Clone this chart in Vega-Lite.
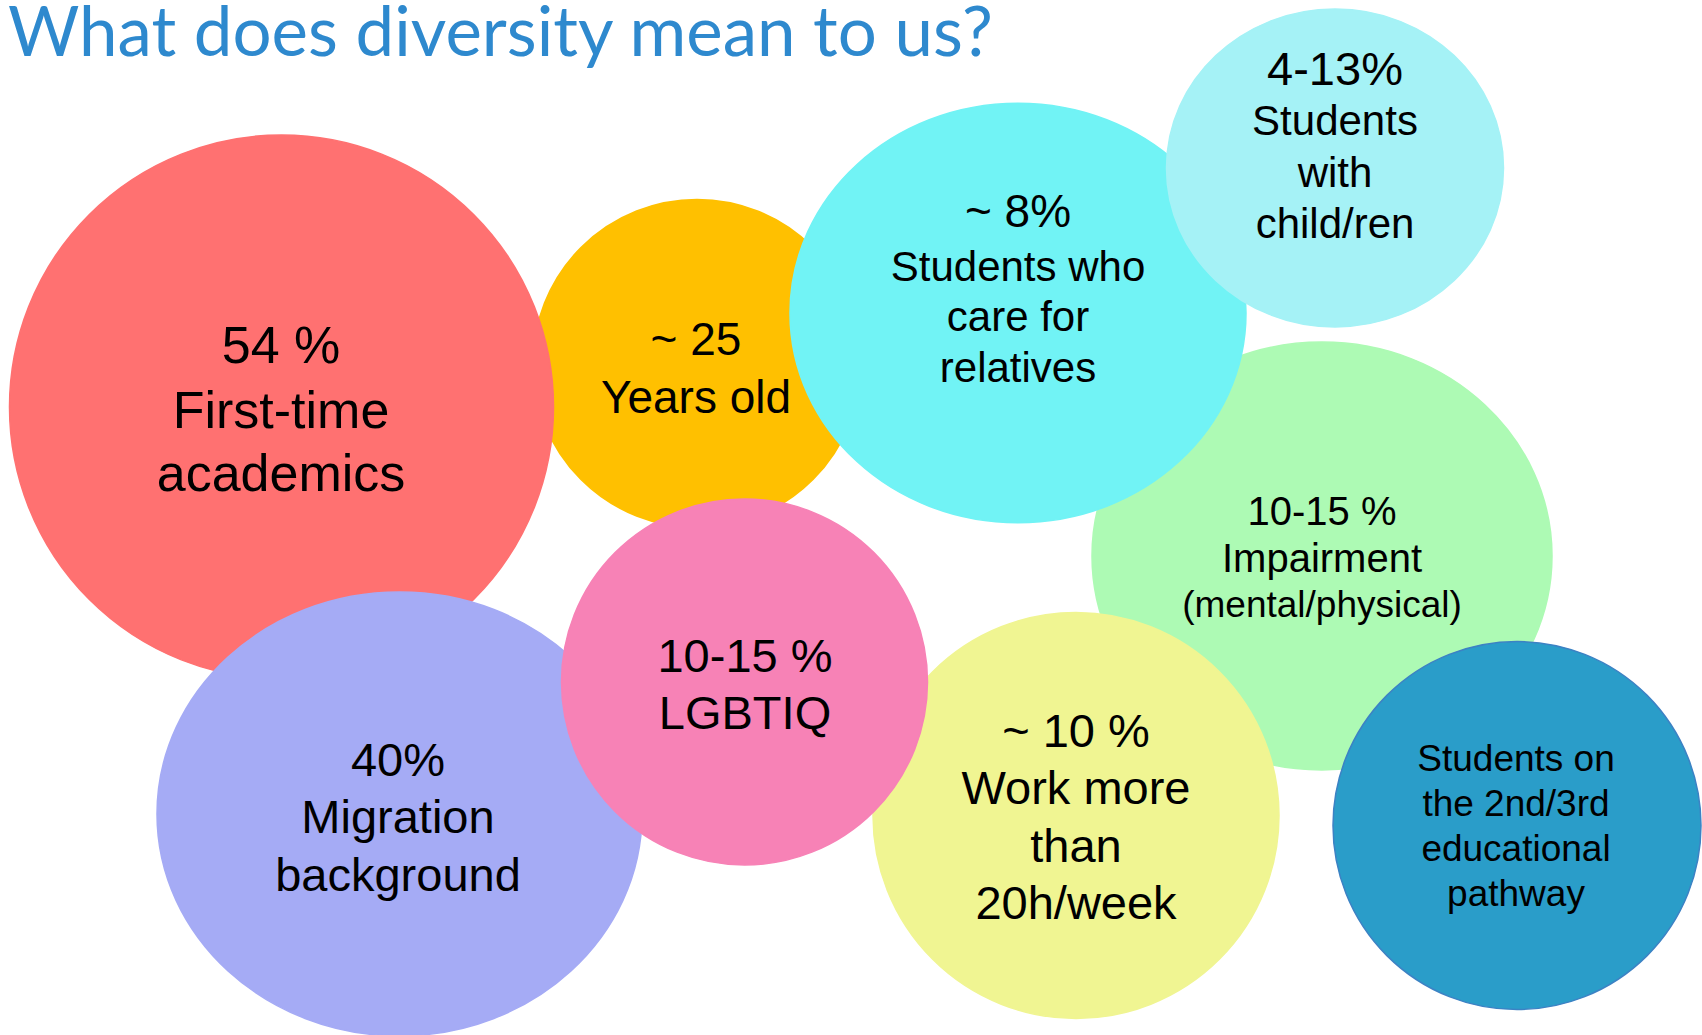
{
  "$schema": "https://vega.github.io/schema/vega-lite/v6.json",
  "width": 1702,
  "height": 1035,
  "autosize": {"type": "none"},
  "padding": 0,
  "background": "white",
  "config": {"view": {"stroke": null}},
  "datasets": {
    "heading": [
      {"text": "What does diversity mean to us?", "x": 8, "y": 979}
    ],
    "bubbles": [
      {"name": "Impairment", "x": 1322, "y": 479, "r": 230},
      {"name": "Age", "x": 697, "y": 671.5, "r": 164},
      {"name": "First-time academics", "x": 281.5, "y": 628, "r": 272},
      {"name": "Care for relatives", "x": 1018, "y": 722, "r": 228},
      {"name": "With children", "x": 1335, "y": 867, "r": 168.5},
      {"name": "Migration background", "x": 399.5, "y": 221, "r": 242.5},
      {"name": "Work", "x": 1076, "y": 219.5, "r": 203},
      {"name": "LGBTIQ", "x": 744.5, "y": 353, "r": 183},
      {"name": "Educational pathway", "x": 1517, "y": 209.5, "r": 184}
    ],
    "lines": [
      {"name": "First-time academics", "text": "54 %", "x": 281, "y": 672, "tier": "t1"},
      {"name": "First-time academics", "text": "First-time", "x": 281, "y": 607, "tier": "t1"},
      {"name": "First-time academics", "text": "academics", "x": 281, "y": 544, "tier": "t1"},
      {"name": "Age", "text": "~ 25", "x": 696, "y": 680, "tier": "t3"},
      {"name": "Age", "text": "Years old", "x": 696, "y": 622, "tier": "t3"},
      {"name": "Care for relatives", "text": "~ 8%", "x": 1018, "y": 808, "tier": "t3"},
      {"name": "Care for relatives", "text": "Students who", "x": 1018, "y": 754, "tier": "t5"},
      {"name": "Care for relatives", "text": "care for", "x": 1018, "y": 704, "tier": "t5"},
      {"name": "Care for relatives", "text": "relatives", "x": 1018, "y": 653, "tier": "t5"},
      {"name": "With children", "text": "4-13%", "x": 1335, "y": 950, "tier": "t2"},
      {"name": "With children", "text": "Students", "x": 1335, "y": 900, "tier": "t5"},
      {"name": "With children", "text": "with", "x": 1335, "y": 848, "tier": "t5"},
      {"name": "With children", "text": "child/ren", "x": 1335, "y": 797, "tier": "t5"},
      {"name": "Impairment", "text": "10-15 %", "x": 1322, "y": 510, "tier": "t6"},
      {"name": "Impairment", "text": "Impairment", "x": 1322, "y": 463, "tier": "t6"},
      {"name": "Impairment", "text": "(mental/physical)", "x": 1322, "y": 418, "tier": "t7"},
      {"name": "LGBTIQ", "text": "10-15 %", "x": 745, "y": 363, "tier": "t2"},
      {"name": "LGBTIQ", "text": "LGBTIQ", "x": 745, "y": 306, "tier": "t2"},
      {"name": "Migration background", "text": "40%", "x": 398, "y": 259, "tier": "t2"},
      {"name": "Migration background", "text": "Migration", "x": 398, "y": 202, "tier": "t2"},
      {"name": "Migration background", "text": "background", "x": 398, "y": 144, "tier": "t2"},
      {"name": "Work", "text": "~ 10 %", "x": 1076, "y": 288, "tier": "t2"},
      {"name": "Work", "text": "Work more", "x": 1076, "y": 231, "tier": "t2"},
      {"name": "Work", "text": "than", "x": 1076, "y": 173, "tier": "t2"},
      {"name": "Work", "text": "20h/week", "x": 1076, "y": 116, "tier": "t2"},
      {"name": "Educational pathway", "text": "Students on", "x": 1516, "y": 264, "tier": "t7"},
      {"name": "Educational pathway", "text": "the 2nd/3rd", "x": 1516, "y": 219, "tier": "t7"},
      {"name": "Educational pathway", "text": "educational", "x": 1516, "y": 174, "tier": "t7"},
      {"name": "Educational pathway", "text": "pathway", "x": 1516, "y": 129, "tier": "t7"}
    ]
  },
  "encoding": {
    "x": {"field": "x", "type": "quantitative", "scale": {"domain": [0, 1702], "nice": false, "zero": false}, "axis": null},
    "y": {"field": "y", "type": "quantitative", "scale": {"domain": [0, 1035], "nice": false, "zero": false}, "axis": null}
  },
  "layer": [
    {
      "data": {"name": "bubbles"},
      "mark": {"type": "point", "filled": true, "opacity": 1, "strokeWidth": 1.5},
      "encoding": {
        "size": {"field": "r", "type": "quantitative", "scale": {"type": "pow", "exponent": 2, "domain": [0, 300], "range": [0, 360000]}, "legend": null},
        "shape": {
          "field": "name", "type": "nominal", "legend": null,
          "scale": {
            "domain": ["Impairment", "Age", "First-time academics", "Care for relatives", "With children", "Migration background", "Work", "LGBTIQ", "Educational pathway"],
            "range": [
              "M1,0C1,0.5136,0.5523,0.93,0,0.93C-0.5523,0.93,-1,0.5136,-1,0C-1,-0.5136,-0.5523,-0.93,0,-0.93C0.5523,-0.93,1,-0.5136,1,0Z",
              "circle",
              "circle",
              "M1,0C1,0.5081,0.5523,0.92,0,0.92C-0.5523,0.92,-1,0.5081,-1,0C-1,-0.5081,-0.5523,-0.92,0,-0.92C0.5523,-0.92,1,-0.5081,1,0Z",
              "M1,0C1,0.5208,0.5523,0.943,0,0.943C-0.5523,0.943,-1,0.5208,-1,0C-1,-0.5208,-0.5523,-0.943,0,-0.943C0.5523,-0.943,1,-0.5208,1,0Z",
              "M1,0C1,0.5054,0.5523,0.915,0,0.915C-0.5523,0.915,-1,0.5054,-1,0C-1,-0.5054,-0.5523,-0.915,0,-0.915C0.5523,-0.915,1,-0.5054,1,0Z",
              "circle",
              "circle",
              "circle"
            ]
          }
        },
        "fill": {
          "field": "name", "type": "nominal", "legend": null,
          "scale": {
            "domain": ["Impairment", "Age", "First-time academics", "Care for relatives", "With children", "Migration background", "Work", "LGBTIQ", "Educational pathway"],
            "range": ["#ADFAB4", "#FFC000", "#FF7171", "#71F3F5", "#A5F2F6", "#A5ABF5", "#F0F592", "#F782B6", "#2A9DC9"]
          }
        },
        "stroke": {
          "field": "name", "type": "nominal", "legend": null,
          "scale": {
            "domain": ["Impairment", "Age", "First-time academics", "Care for relatives", "With children", "Migration background", "Work", "LGBTIQ", "Educational pathway"],
            "range": ["#ADFAB4", "#FFC000", "#FF7171", "#71F3F5", "#A5F2F6", "#A5ABF5", "#F0F592", "#F782B6", "#3C82C4"]
          }
        }
      }
    },
    {
      "data": {"name": "heading"},
      "mark": {"type": "text", "font": "Lato", "fontSize": 69, "align": "left", "baseline": "alphabetic", "color": "#2E89CE"},
      "encoding": {"text": {"field": "text", "type": "nominal"}}
    },
    {
      "data": {"name": "lines"},
      "transform": [{"filter": {"field": "tier", "equal": "t1"}}],
      "mark": {"type": "text", "font": "Liberation Sans", "fontSize": 52, "align": "center", "baseline": "alphabetic", "color": "#000000"},
      "encoding": {"text": {"field": "text", "type": "nominal"}}
    },
    {
      "data": {"name": "lines"},
      "transform": [{"filter": {"field": "tier", "equal": "t2"}}],
      "mark": {"type": "text", "font": "Liberation Sans", "fontSize": 47, "align": "center", "baseline": "alphabetic", "color": "#000000"},
      "encoding": {"text": {"field": "text", "type": "nominal"}}
    },
    {
      "data": {"name": "lines"},
      "transform": [{"filter": {"field": "tier", "equal": "t3"}}],
      "mark": {"type": "text", "font": "Liberation Sans", "fontSize": 46, "align": "center", "baseline": "alphabetic", "color": "#000000"},
      "encoding": {"text": {"field": "text", "type": "nominal"}}
    },
    {
      "data": {"name": "lines"},
      "transform": [{"filter": {"field": "tier", "equal": "t5"}}],
      "mark": {"type": "text", "font": "Liberation Sans", "fontSize": 42, "align": "center", "baseline": "alphabetic", "color": "#000000"},
      "encoding": {"text": {"field": "text", "type": "nominal"}}
    },
    {
      "data": {"name": "lines"},
      "transform": [{"filter": {"field": "tier", "equal": "t6"}}],
      "mark": {"type": "text", "font": "Liberation Sans", "fontSize": 40, "align": "center", "baseline": "alphabetic", "color": "#000000"},
      "encoding": {"text": {"field": "text", "type": "nominal"}}
    },
    {
      "data": {"name": "lines"},
      "transform": [{"filter": {"field": "tier", "equal": "t7"}}],
      "mark": {"type": "text", "font": "Liberation Sans", "fontSize": 37, "align": "center", "baseline": "alphabetic", "color": "#000000"},
      "encoding": {"text": {"field": "text", "type": "nominal"}}
    }
  ]
}
